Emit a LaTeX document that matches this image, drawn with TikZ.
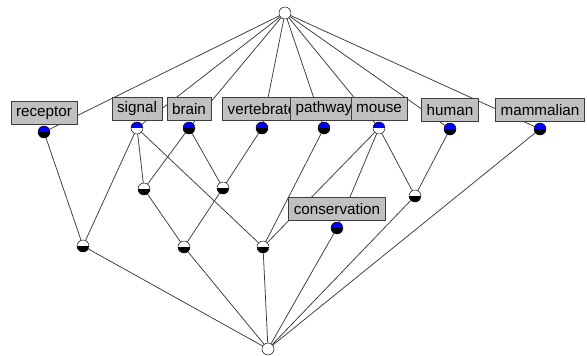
\documentclass[tikz,border=0pt]{standalone}
\usepackage{fontspec}
\setmainfont{Liberation Sans}
\usetikzlibrary{positioning}

\definecolor{lblgray}{RGB}{192,192,192}
\definecolor{linegray}{RGB}{60,60,60}

\tikzset{
	half/.style 2 args={shape=circle, draw=black, inner sep=0pt, minimum size=0.36cm,
		path picture={
			\fill[#1] (path picture bounding box.north west) rectangle (path picture bounding box.east);
			\fill[#2] (path picture bounding box.west) rectangle (path picture bounding box.south east);
		}},
	attr/.style={half={blue}{black}},
	obj/.style={half={white}{black}},
	ends/.style={shape=circle, draw=black, fill=white, inner sep=0pt, minimum size=0.36cm},
	lbl/.style={draw=linegray, fill=lblgray, inner xsep=4.5pt, minimum height=0.7cm,
		font=\fontsize{13}{15}\selectfont},
	link/.style={-, draw=linegray, line width=0.65pt}
}

\begin{document}
\begin{tikzpicture}[x=0.03cm, y=-0.03cm]
	\useasboundingbox (0,0) rectangle (587,355);
	
	\node[ends] (top) at (285, 13)    {};
	\node[ends] (bot) at (268, 349)   {};
	
	\node[attr] (receptor)  at (44, 132)  {};
	\node[half={blue}{white}] (signal) at (137, 128) {};
	\node[attr] (brain)     at (189, 128) {};
	\node[attr] (vert)      at (262, 128) {};
	\node[attr] (pathway)   at (324, 128) {};
	\node[half={blue}{white}] (mouse) at (379, 128) {};
	\node[attr] (human)     at (450, 129) {};
	\node[attr] (mammal)    at (540, 129) {};
	\node[attr] (conserv)   at (337, 228) {};
	
	\node[obj] (a) at (144, 189) {};
	\node[obj] (b) at (223, 188) {};
	\node[obj] (c) at (415, 196) {};
	\node[obj] (d) at (83, 246)  {};
	\node[obj] (e) at (184, 247) {};
	\node[obj] (f) at (263, 247) {};
	
	\path[link] (top) edge (receptor);
	\path[link] (top) edge (signal);
	\path[link] (top) edge (brain);
	\path[link] (top) edge (vert);
	\path[link] (top) edge (pathway);
	\path[link] (top) edge (mouse);
	\path[link] (top) edge (human);
	\path[link] (top) edge (mammal);
	
	\path[link] (receptor) edge (d);
	\path[link] (signal) edge (a);
	\path[link] (signal) edge (d);
	\path[link] (signal) edge (f);
	\path[link] (brain) edge (a);
	\path[link] (brain) edge (b);
	\path[link] (vert) edge (b);
	\path[link] (pathway) edge (f);
	\path[link] (mouse) edge (f);
	\path[link] (mouse) edge (conserv);
	\path[link] (mouse) edge (c);
	\path[link] (human) edge (c);
	\path[link] (a) edge (e);
	\path[link] (b) edge (e);
	
	\path[link] (d) edge (bot);
	\path[link] (e) edge (bot);
	\path[link] (f) edge (bot);
	\path[link] (conserv) edge (bot);
	\path[link] (c) edge (bot);
	\path[link] (mammal) edge (bot);
	
	% labels last, so they cover the links
	\node[lbl, above=1pt of receptor] (receptorl) {receptor};
	\node[lbl, above=1pt of signal]   (signall)   {signal};
	\node[lbl, above=1pt of brain]    (brainl)    {brain};
	\node[lbl, above=1pt of vert]     (vertl)     {vertebrate};
	\node[lbl, above=1pt of pathway]  (pathwayl)  {pathway};
	\node[lbl, above=1pt of mouse]    (mousel)    {mouse};
	\node[lbl, above=1pt of human]    (humanl)    {human};
	\node[lbl, above=1pt of mammal]   (mammall)   {mammalian};
	\node[lbl, above=1pt of conserv]  (conservl)  {conservation};

\end{tikzpicture}
\end{document}
